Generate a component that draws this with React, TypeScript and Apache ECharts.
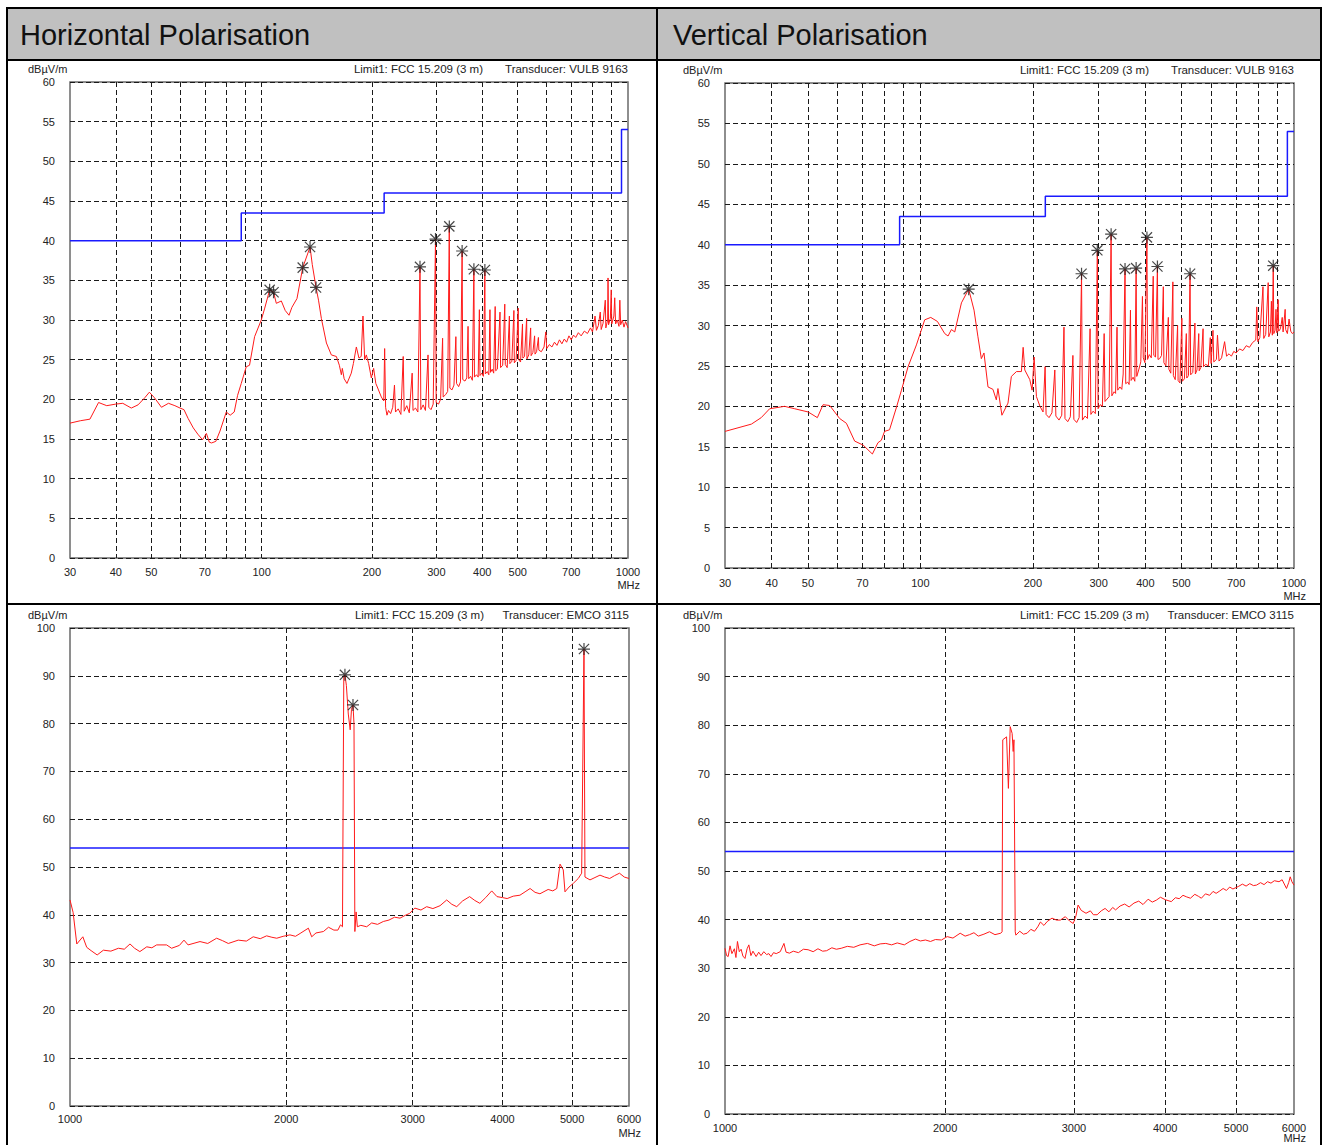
import React, { useEffect, useRef } from 'react';
import * as echarts from 'echarts';

const FONT = '"Liberation Sans", Arial, Helvetica, sans-serif';

// ---------- axis ticks ----------
const lowGridMHz = [40, 50, 60, 70, 80, 90, 100, 200, 300, 400, 500, 600, 700, 800, 900];
const lowLabelMHz = [30, 40, 50, 70, 100, 200, 300, 400, 500, 700, 1000];
const highGridMHz = [2000, 3000, 4000, 5000];
const highLabelMHz = [1000, 2000, 3000, 4000, 5000, 6000];

// ---------- limit lines (FCC 15.209, 3 m) ----------
const limitLow = [[30, 40], [88, 40], [88, 43.5], [216, 43.5], [216, 46], [960, 46], [960, 54], [1000, 54]];
const limitHigh = [[1000, 54], [6000, 54]];

// ---------- Horizontal, 30 - 1000 MHz ----------
const traceHLow = [
  [30, 17.0], [32, 17.3], [34, 17.5], [35.9, 19.6], [37.8, 19.2], [40, 19.4], [41.8, 19.5], [44.1, 18.9], [46, 19.3],
  [48, 20.2], [49.4, 20.9], [51, 20.2], [53.3, 19.0], [55.7, 19.5], [58, 19.2], [59.9, 18.9], [61.4, 18.7], [63, 17.6],
  [65.1, 16.4], [67, 15.6], [69, 14.9], [70.7, 15.7], [72, 14.6], [73, 14.5], [75, 14.7], [77, 16.0], [80.1, 18.4],
  [82.1, 18.0], [84.2, 18.4], [86, 20.5], [88, 22.0], [90.8, 24.1], [92.7, 24.3], [95.7, 27.9], [99.8, 30.0], [102, 31.5],
  [105.2, 33.8], [107.8, 33.5], [109.7, 32.1], [113.2, 32.4], [116, 31.2], [118.8, 30.6], [121, 31.6], [124.9, 32.7],
  [129.5, 36.6], [135.6, 39.2], [137.5, 37.0], [140.8, 34.1], [143, 32.5], [145.6, 30.2], [150.3, 27.1], [155, 25.6],
  [160, 25.4], [163, 24.3], [165.1, 23.1], [166.1, 23.9], [168, 22.6], [171, 22.0], [175.7, 23.3], [178, 24.5],
  [181.4, 26.6], [184.4, 25.2], [187, 25.4], [189.1, 30.5], [191.1, 25.0], [193.1, 25.6], [196, 24.5], [199.3, 22.7],
  [202.2, 23.9], [205, 22.0], [208, 21.3], [212.2, 20.3], [215.5, 19.8], [216.7, 26.4], [218, 19.0], [219.9, 18.0],
  [222, 18.6], [225, 18.2], [228, 19.0], [230.5, 21.8], [232, 18.4], [236, 18.8], [240, 18.1], [243.5, 25.4], [245, 18.5],
  [249, 19.2], [253, 18.3], [257.6, 23.3], [259, 18.6], [263, 18.9], [267, 18.4], [270.6, 36.7], [272, 18.7], [276, 19.3],
  [280, 18.6], [284.6, 25.6], [286, 19.0], [290, 18.7], [294, 19.4], [298.3, 40.2], [299.5, 19.6], [304, 19.4], [308, 20.0],
  [311.9, 27.7], [313, 20.3], [318, 20.6], [322, 21.0], [325.3, 41.8], [326.5, 21.4], [331, 21.2], [335, 21.8], [339, 27.9],
  [340.5, 22.0], [345, 21.6], [349, 22.2], [352.6, 38.7], [354, 22.5], [359, 22.3], [363, 22.7], [366, 29.2], [367.5, 22.6],
  [372, 22.9], [376, 22.4], [379.7, 36.4], [381, 22.8], [386, 23.1], [390, 22.8], [393, 31.3], [394.5, 23.0], [399, 23.3],
  [403, 22.9], [406.8, 36.3], [408, 23.2], [413, 23.5], [417, 23.1], [420, 31.3], [421.5, 23.4], [426, 23.8], [430, 23.3],
  [434, 31.7], [435.5, 23.6], [440, 23.8], [447.4, 31.0], [449, 24.0], [455, 24.3], [461, 32.0], [462.5, 24.4], [468, 24.0],
  [474.6, 30.5], [476, 24.5], [482, 24.8], [488.2, 31.2], [489.5, 24.6], [495, 24.9], [501.7, 31.5], [503, 25.0], [509, 24.7],
  [515.3, 29.5], [516.5, 25.2], [522, 25.4], [528.9, 30.2], [530, 25.1], [536, 25.6], [542.4, 29.0], [544, 25.5], [550, 25.9],
  [556, 28.0], [557.5, 25.7], [563, 26.0], [569.5, 27.8], [571, 26.2], [580, 26.0], [590, 26.6], [596.6, 28.5], [600, 26.4],
  [610, 26.9], [620, 26.6], [630, 27.2], [640, 26.8], [650, 27.5], [660, 27.0], [670, 27.6], [680, 27.2], [690, 28.0],
  [700, 27.5], [710, 28.1], [720, 27.8], [732, 28.4], [745, 28.0], [760, 28.6], [775, 28.3], [790, 29.0], [800, 28.5],
  [813, 30.5], [820, 28.7], [830, 29.3], [840, 31.0], [845, 28.8], [855, 29.6], [867, 32.5], [870, 29.0], [880, 30.0],
  [882, 35.3], [885, 29.4], [895, 30.2], [900, 33.8], [903, 29.5], [915, 30.5], [920, 32.8], [925, 29.5], [935, 30.0],
  [945, 29.2], [950, 32.5], [955, 29.4], [965, 30.0], [975, 29.1], [985, 29.8], [1000, 29.0],
];
const markersHLow = [
  [105.2, 33.8], [107.8, 33.5], [129.5, 36.6], [135.6, 39.2], [140.8, 34.1],
  [270.6, 36.7], [298.3, 40.2], [325.3, 41.8], [352.6, 38.7], [379.7, 36.4], [406.8, 36.3],
];

// ---------- Vertical, 30 - 1000 MHz ----------
const traceVLow = [
  [30, 16.9], [35.3, 17.8], [37.5, 18.6], [39.5, 19.7], [43.3, 20.0], [46.1, 19.7], [50.1, 19.3], [53.0, 18.6], [54.9, 20.2],
  [57.2, 20.1], [60.8, 18.5], [63.4, 17.9], [66.7, 15.7], [70.3, 15.2], [74.4, 14.1], [77.0, 15.5], [78.6, 15.8], [80.2, 16.9],
  [82.7, 17.1], [86.2, 19.8], [89, 22.0], [92.7, 24.9], [97.6, 27.6], [102.7, 30.7], [106.6, 31.0], [111.1, 30.5],
  [116.2, 29.0], [118.6, 28.7], [121.1, 29.5], [123.6, 29.2], [128.8, 32.8], [134.7, 34.5], [139.2, 31.9], [142.6, 28.6],
  [145.6, 25.9], [148.0, 26.6], [151.7, 22.4], [156.4, 22.1], [159.7, 20.8], [161.3, 22.2], [165.3, 18.9], [171.6, 20.4],
  [175.2, 23.7], [180.8, 24.3], [186.4, 24.3], [188.4, 27.3], [190.3, 24.5], [196.3, 23.3], [199.1, 22.0], [201.6, 26.1],
  [204.5, 21.2], [209, 20.0], [213, 19.3], [215.7, 24.9], [217, 19.0], [221, 18.6], [225, 19.2], [229, 24.5], [230.5, 18.8],
  [235, 18.3], [239, 18.9], [242.3, 29.8], [243.8, 18.5], [248, 18.1], [252, 18.7], [256, 26.3], [257.5, 18.4], [262, 18.0],
  [266, 18.6], [270, 36.4], [271.5, 18.3], [276, 18.8], [280, 18.5], [284.6, 29.6], [286, 19.0], [290, 19.4], [294, 19.1],
  [297.6, 39.3], [299, 19.7], [303, 20.2], [307, 20.0], [310.4, 29.0], [312, 20.6], [316, 20.9], [320, 21.2], [324, 41.3],
  [325.5, 21.3], [330, 21.8], [333, 21.6], [336, 29.8], [337.5, 22.0], [342, 22.4], [346, 22.1], [349, 24.0], [353, 37.0],
  [354.5, 22.8], [359, 23.0], [362, 22.7], [365, 31.9], [366.5, 23.2], [371, 23.6], [375, 23.1], [378, 37.1], [379.5, 23.7],
  [384, 24.5], [389, 25.5], [393, 33.6], [395, 26.0], [399, 25.4], [404, 40.9], [405.5, 25.8], [410, 26.4], [415, 26.0],
  [420, 36.1], [421.5, 26.3], [426, 26.1], [431, 37.3], [432.5, 25.8], [437, 25.9], [442, 26.3], [447, 34.8], [448.5, 25.4],
  [454, 25.0], [461, 31.0], [462.5, 24.6], [468, 24.1], [474, 35.4], [475.5, 23.8], [481, 23.3], [488, 30.0], [489.5, 23.2],
  [495, 22.9], [501, 30.9], [502.5, 23.1], [509, 23.4], [515, 29.0], [516.5, 23.5], [522, 23.8], [527, 36.4], [529, 23.9],
  [536, 24.2], [543, 30.3], [544.5, 24.0], [550, 24.5], [556, 29.0], [557.5, 24.4], [563, 24.8], [571, 29.6], [572.5, 24.9],
  [580, 25.2], [590, 25.0], [597, 28.5], [600, 25.3], [607, 29.4], [610, 25.5], [620, 25.8], [624, 28.8], [630, 25.6],
  [640, 26.0], [652, 28.0], [660, 26.2], [670, 26.5], [680, 26.2], [690, 26.8], [700, 26.6], [715, 27.1], [730, 26.9],
  [745, 27.5], [760, 27.3], [775, 27.9], [790, 28.2], [795, 32.3], [800, 28.0], [810, 28.5], [826, 34.8], [830, 28.4],
  [840, 28.9], [853, 35.3], [856, 28.6], [865, 29.2], [870, 33.0], [875, 28.8], [880, 37.4], [883, 29.0], [890, 29.4],
  [895, 32.0], [900, 29.1], [907, 33.2], [910, 29.3], [920, 29.6], [930, 31.0], [935, 29.2], [947, 32.0], [950, 29.5],
  [960, 29.0], [970, 30.8], [980, 29.3], [990, 29.0], [1000, 29.2],
];
const markersVLow = [
  [134.7, 34.5], [270, 36.4], [297.6, 39.3], [324, 41.3], [353, 37.0], [378, 37.1], [404, 40.9], [431, 37.3], [527, 36.4], [880, 37.4],
];

// ---------- Horizontal, 1 - 6 GHz ----------
const traceHHigh = [
  [1000, 43.1], [1010, 40.5], [1022, 33.9], [1042, 35.4], [1055, 33.2], [1070, 32.5], [1091, 31.6], [1113, 32.6], [1140, 32.4],
  [1168, 33.0], [1190, 32.8], [1212, 33.9], [1230, 33.0], [1251, 32.3], [1279, 33.3], [1300, 33.1], [1320, 33.7], [1363, 33.7],
  [1385, 33.0], [1420, 33.6], [1441, 34.7], [1460, 33.7], [1517, 34.4], [1555, 34.0], [1600, 35.1], [1630, 34.6], [1661, 34.0],
  [1715, 34.7], [1760, 34.5], [1799, 35.4], [1840, 35.0], [1878, 35.6], [1910, 35.3], [1940, 35.1], [1980, 35.5], [2024, 35.8],
  [2060, 35.5], [2091, 36.1], [2147, 37.2], [2170, 35.4], [2200, 36.2], [2253, 36.5], [2290, 37.4], [2330, 36.8], [2360, 36.8],
  [2380, 37.9], [2395, 37.5], [2405, 89.8], [2414, 90.2], [2425, 88.0], [2440, 82.0], [2455, 78.7], [2465, 83.0], [2477, 83.9],
  [2485, 80.0], [2492, 36.5], [2502, 40.6], [2512, 37.5], [2540, 37.8], [2588, 37.5], [2630, 38.3], [2680, 38.0], [2730, 38.6],
  [2780, 38.9], [2830, 39.5], [2880, 39.3], [2930, 39.9], [2970, 40.3], [3020, 41.4], [3080, 41.0], [3137, 41.7], [3200, 41.3],
  [3274, 41.9], [3345, 43.1], [3400, 42.2], [3454, 41.7], [3520, 42.9], [3600, 43.8], [3660, 43.0], [3720, 42.4], [3790, 43.6],
  [3864, 45.0], [3930, 43.8], [4000, 43.6], [4060, 43.4], [4140, 43.9], [4230, 44.1], [4300, 44.8], [4370, 45.5], [4440, 44.7],
  [4510, 44.4], [4630, 45.3], [4700, 45.0], [4760, 45.5], [4810, 50.6], [4860, 49.4], [4887, 44.8], [4950, 45.8], [5020, 46.6],
  [5100, 47.6], [5155, 48.7], [5194, 95.6], [5210, 47.9], [5295, 47.3], [5380, 47.8], [5467, 48.3], [5550, 47.9], [5640, 47.6],
  [5730, 48.2], [5820, 48.7], [5910, 47.9], [6000, 47.6],
];
const markersHHigh = [[2414, 90.2], [2477, 83.9], [5194, 95.6]];

// ---------- Vertical, 1 - 6 GHz ----------
const traceVHigh = [
  [1000, 34.1], [1005, 32.6], [1010, 32.4], [1016, 34.6], [1022, 33.0], [1030, 34.0], [1035, 32.2], [1040, 35.5], [1046, 33.4],
  [1052, 33.9], [1058, 32.5], [1065, 32.0], [1072, 34.0], [1078, 34.8], [1085, 32.6], [1092, 33.5], [1103, 32.4], [1112, 33.3],
  [1120, 32.6], [1130, 33.4], [1140, 32.8], [1148, 33.0], [1156, 32.4], [1165, 33.2], [1175, 33.0], [1190, 33.4], [1204, 35.1],
  [1212, 33.3], [1225, 33.1], [1240, 33.5], [1260, 33.2], [1280, 33.9], [1299, 33.8], [1320, 33.4], [1340, 34.0], [1360, 33.5],
  [1377, 33.6], [1400, 34.2], [1420, 33.9], [1442, 34.1], [1470, 34.5], [1500, 34.3], [1530, 34.8], [1566, 35.1], [1600, 34.6],
  [1630, 35.0], [1659, 35.1], [1690, 34.8], [1720, 35.2], [1759, 34.8], [1790, 35.5], [1822, 36.0], [1850, 35.6], [1880, 35.8],
  [1910, 35.5], [1940, 35.9], [1977, 35.8], [2013, 36.5], [2050, 36.2], [2097, 37.2], [2130, 36.6], [2160, 36.9], [2190, 37.3],
  [2220, 36.6], [2260, 37.0], [2300, 37.5], [2340, 36.9], [2383, 37.2], [2393, 37.5], [2398, 77.0], [2427, 77.6], [2441, 67.0],
  [2455, 79.7], [2470, 78.3], [2478, 74.6], [2484, 77.0], [2494, 37.5], [2499, 36.8], [2530, 37.6], [2560, 37.0], [2589, 37.2],
  [2620, 38.0], [2650, 37.6], [2677, 38.5], [2700, 39.5], [2730, 38.8], [2758, 39.6], [2800, 40.3], [2840, 39.9], [2875, 39.9],
  [2920, 40.6], [2960, 39.7], [2994, 39.2], [3020, 40.8], [3040, 43.0], [3070, 41.9], [3117, 41.3], [3160, 41.8], [3190, 41.0],
  [3228, 41.0], [3270, 41.8], [3310, 42.3], [3350, 41.6], [3390, 42.5], [3421, 42.0], [3470, 42.8], [3520, 43.2], [3570, 42.6],
  [3625, 43.4], [3680, 43.8], [3730, 43.1], [3790, 44.2], [3840, 43.6], [3889, 44.0], [3940, 44.6], [4000, 44.1], [4077, 43.7],
  [4130, 44.5], [4180, 44.3], [4230, 45.0], [4274, 44.7], [4330, 44.4], [4390, 45.2], [4440, 44.8], [4482, 44.4], [4540, 45.3],
  [4600, 45.0], [4650, 45.8], [4695, 45.4], [4750, 45.9], [4800, 46.4], [4850, 46.0], [4900, 46.7], [4950, 46.3], [5034, 46.8],
  [5100, 47.3], [5160, 46.9], [5220, 47.4], [5280, 47.0], [5332, 47.1], [5400, 47.6], [5460, 47.2], [5520, 47.8], [5580, 47.5],
  [5640, 48.0], [5723, 47.8], [5780, 48.2], [5860, 46.4], [5900, 47.6], [5929, 48.8], [5960, 47.8], [6000, 47.1],
];
const markersVHigh: number[][] = [];

const columnTitles = ['Horizontal Polarisation', 'Vertical Polarisation'];
const transducers = ['VULB 9163', 'EMCO 3115'];

const STAR = 'path://M9,0h2v20h-2z M0,9h20v2h-20z M2.2,0.8L19.2,17.8L17.8,19.2L0.8,2.2z M17.8,0.8L19.2,2.2L2.2,19.2L0.8,17.8z';

type Panel = {
  left: number; top: number; width: number; height: number;
  xMin: number; xMax: number; yMax: number; yStep: number;
  gridVals: number[]; labelVals: number[];
  trace: number[][]; markers: number[][]; limit: number[][];
  transducer: string; labelMargin: number; unitY: number;
};

const panels: Panel[] = [
  { left: 70, top: 82, width: 558, height: 476, xMin: 30, xMax: 1000, yMax: 60, yStep: 5, gridVals: lowGridMHz, labelVals: lowLabelMHz, trace: traceHLow, markers: markersHLow, limit: limitLow, transducer: transducers[0], labelMargin: 8, unitY: 585 },
  { left: 725, top: 83, width: 569, height: 485, xMin: 30, xMax: 1000, yMax: 60, yStep: 5, gridVals: lowGridMHz, labelVals: lowLabelMHz, trace: traceVLow, markers: markersVLow, limit: limitLow, transducer: transducers[0], labelMargin: 9, unitY: 596 },
  { left: 70, top: 628, width: 559, height: 478, xMin: 1000, xMax: 6000, yMax: 100, yStep: 10, gridVals: highGridMHz, labelVals: highLabelMHz, trace: traceHHigh, markers: markersHHigh, limit: limitHigh, transducer: transducers[1], labelMargin: 7, unitY: 1133 },
  { left: 725, top: 628, width: 569, height: 486, xMin: 1000, xMax: 6000, yMax: 100, yStep: 10, gridVals: highGridMHz, labelVals: highLabelMHz, trace: traceVHigh, markers: markersVHigh, limit: limitHigh, transducer: transducers[1], labelMargin: 8, unitY: 1138 },
];

function buildOption() {
  const grid: any[] = [];
  const xAxis: any[] = [];
  const yAxis: any[] = [];
  const series: any[] = [];
  const graphic: any[] = [];

  const dash = { color: '#1a1a1a', width: 1, type: [5, 3] };

  panels.forEach((p, i) => {
    grid.push({ left: p.left, top: p.top, width: p.width, height: p.height, show: true, borderColor: '#6a6a6a', borderWidth: 1.5, backgroundColor: 'transparent', containLabel: false });
    xAxis.push({
      type: 'log', logBase: 10, min: p.xMin, max: p.xMax, gridIndex: i,
      axisLine: { show: false },
      axisTick: { show: false, customValues: p.gridVals },
      axisLabel: { customValues: p.labelVals, formatter: (v: number) => String(Math.round(v)), margin: p.labelMargin, fontSize: 11, color: '#222', fontFamily: FONT },
      splitLine: { show: true, lineStyle: dash },
    });
    yAxis.push({
      type: 'value', min: 0, max: p.yMax, interval: p.yStep, gridIndex: i,
      axisLine: { show: false }, axisTick: { show: false },
      axisLabel: { margin: 15, fontSize: 11, color: '#222', fontFamily: FONT },
      splitLine: { show: true, lineStyle: dash },
    });
    series.push({
      type: 'line', xAxisIndex: i, yAxisIndex: i, data: p.limit, symbol: 'none', showSymbol: false,
      lineStyle: { color: '#1a1aff', width: 1.5 }, z: 3, silent: true,
    });
    series.push({
      type: 'line', xAxisIndex: i, yAxisIndex: i, data: p.trace, symbol: 'none', showSymbol: false,
      lineStyle: { color: '#ff1a1a', width: 1 }, z: 4, silent: true,
    });
    if (p.markers.length) {
      series.push({
        type: 'scatter', xAxisIndex: i, yAxisIndex: i, data: p.markers, symbol: STAR, symbolSize: 12,
        itemStyle: { color: '#1a1a1a' }, z: 5, silent: true,
      });
    }
    const hy = p.top - 13;
    const right = p.left + p.width;
    const txt = (x: number, y: number, text: string, align: string, size = 11) => ({
      type: 'text', x, y, silent: true,
      style: { text, fill: '#222', fontSize: size, fontFamily: FONT, textAlign: align, textVerticalAlign: 'middle', align, verticalAlign: 'middle' },
    });
    graphic.push(txt(p.left - 42, hy, 'dBµV/m', 'left'));
    graphic.push(txt(right - 145, hy, 'Limit1: FCC 15.209 (3 m)', 'right', 11.5));
    graphic.push(txt(right, hy, 'Transducer: ' + p.transducer, 'right', 11.5));
    graphic.push(txt(right + 12, p.unitY, 'MHz', 'right'));
  });

  // table frame & headers
  graphic.unshift(
    { type: 'rect', shape: { x: 7, y: 8, width: 1315, height: 52 }, style: { fill: '#c0c0c0' }, silent: true, z: -10 },
  );
  const line = (x1: number, y1: number, x2: number, y2: number) => ({
    type: 'line', shape: { x1, y1, x2, y2 }, style: { stroke: '#000', lineWidth: 2 }, silent: true, z: 10,
  });
  graphic.push(line(6, 8, 1322, 8));
  graphic.push(line(6, 60, 1322, 60));
  graphic.push(line(6, 604, 1322, 604));
  graphic.push(line(7, 7, 7, 1145));
  graphic.push(line(657, 7, 657, 1145));
  graphic.push(line(1321, 7, 1321, 1145));
  columnTitles.forEach((t, i) => {
    graphic.push({
      type: 'text', x: i === 0 ? 20 : 673, y: 35, silent: true,
      style: { text: t, fill: '#111', fontSize: 29, fontFamily: FONT, textAlign: 'left', textVerticalAlign: 'middle', align: 'left', verticalAlign: 'middle' },
    });
  });

  return { animation: false, backgroundColor: '#fff', grid, xAxis, yAxis, series, graphic };
}

export default function App() {
  const ref = useRef<HTMLDivElement>(null);
  useEffect(() => {
    if (!ref.current) return;
    const chart = echarts.init(ref.current, undefined, { renderer: 'svg' });
    chart.setOption(buildOption() as any);
    return () => chart.dispose();
  }, []);
  return <div ref={ref} style={{ position: 'absolute', left: 0, top: 0, width: 1323, height: 1145, background: '#fff' }} />;
}
